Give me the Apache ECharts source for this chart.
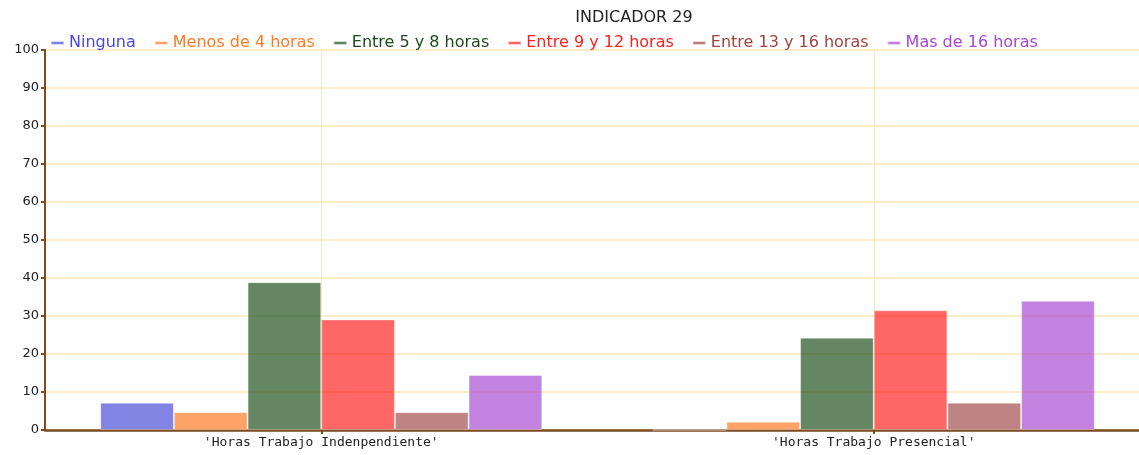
<!DOCTYPE html>
<html>
<head>
<meta charset="utf-8">
<script src="https://cdn.jsdelivr.net/npm/echarts@6/dist/echarts.min.js"></script>
<style>
  html, body { margin: 0; padding: 0; background: #fff; overflow: hidden; }
  #chart { width: 1150px; height: 455px; }
</style>
</head>
<body>
<div id="chart"></div>
<script>
var categories = ["'Horas Trabajo Indenpendiente'", "'Horas Trabajo Presencial'"];
var seriesNames = ['Ninguna', 'Menos de 4 horas', 'Entre 5 y 8 horas', 'Entre 9 y 12 horas', 'Entre 13 y 16 horas', 'Mas de 16 horas'];
var ninguna = [7.2, 0];
var menos4 = [4.7, 2.2];
var entre5y8 = [38.9, 24.3];
var entre9y12 = [29.1, 31.5];
var entre13y16 = [4.7, 7.2];
var mas16 = [14.5, 34.0];
var yTicks = [0, 100, 10]; // min, max, interval

var colorList = ['#4141d4', '#ff7314', '#12450f', '#ff1414', '#9e4141', '#a141d0'];
var textColors = ['#4848e0', '#ff7a24', '#1c4a1c', '#ff2020', '#a04444', '#a448d8'];
var values = [ninguna, menos4, entre5y8, entre9y12, entre13y16, mas16];

var chart = echarts.init(document.getElementById('chart'));
var brown = '#7b4a1f';
var gridColor = '#fbe6b8';

var series = seriesNames.map(function (name, i) {
    return {
        name: name,
        type: 'bar',
        data: values[i],
        barGap: '0%',
        barCategoryGap: '20%',
        itemStyle: {
            color: colorList[i],
            opacity: 0.65,
            borderColor: 'rgba(255,255,255,0.6)',
            borderWidth: 1
        }
    };
});

var option = {
    animation: false,
    title: {
        text: 'INDICADOR 29',
        left: 629,
        textAlign: 'center',
        top: 5,
        textStyle: { fontFamily: 'DejaVu Sans', fontSize: 16, fontWeight: 'normal', color: '#222' }
    },
    legend: {
        left: 45,
        top: 30,
        icon: 'rect',
        itemWidth: 13,
        itemHeight: 3,
        itemGap: 18,
        data: seriesNames.map(function (name, i) {
            return {
                name: name,
                itemStyle: { color: textColors[i], opacity: 1 },
                textStyle: { color: textColors[i] }
            };
        }),
        textStyle: { fontFamily: 'DejaVu Sans', fontSize: 16 }
    },
    grid: { left: 45, right: 0, top: 50, bottom: 25, containLabel: false },
    xAxis: {
        type: 'category',
        data: categories,
        axisLine: { lineStyle: { color: brown, width: 2.5 } },
        axisTick: { show: true, alignWithLabel: true, length: 4, lineStyle: { color: brown, width: 2 } },
        axisLabel: { fontFamily: 'DejaVu Sans Mono', fontSize: 13, color: '#222', margin: 6 },
        splitLine: { show: true, alignWithLabel: true, lineStyle: { color: gridColor, width: 1 } }
    },
    yAxis: {
        type: 'value',
        min: yTicks[0],
        max: yTicks[1],
        interval: yTicks[2],
        axisLine: { show: true, lineStyle: { color: brown, width: 2 } },
        axisTick: { show: true, length: 4, lineStyle: { color: brown, width: 2 } },
        axisLabel: { fontFamily: 'DejaVu Sans', fontSize: 13, color: '#222', margin: 6 },
        splitLine: { show: true, lineStyle: { color: gridColor, width: 1.5 } }
    },
    series: series
};

chart.setOption(option);
</script>
</body>
</html>
